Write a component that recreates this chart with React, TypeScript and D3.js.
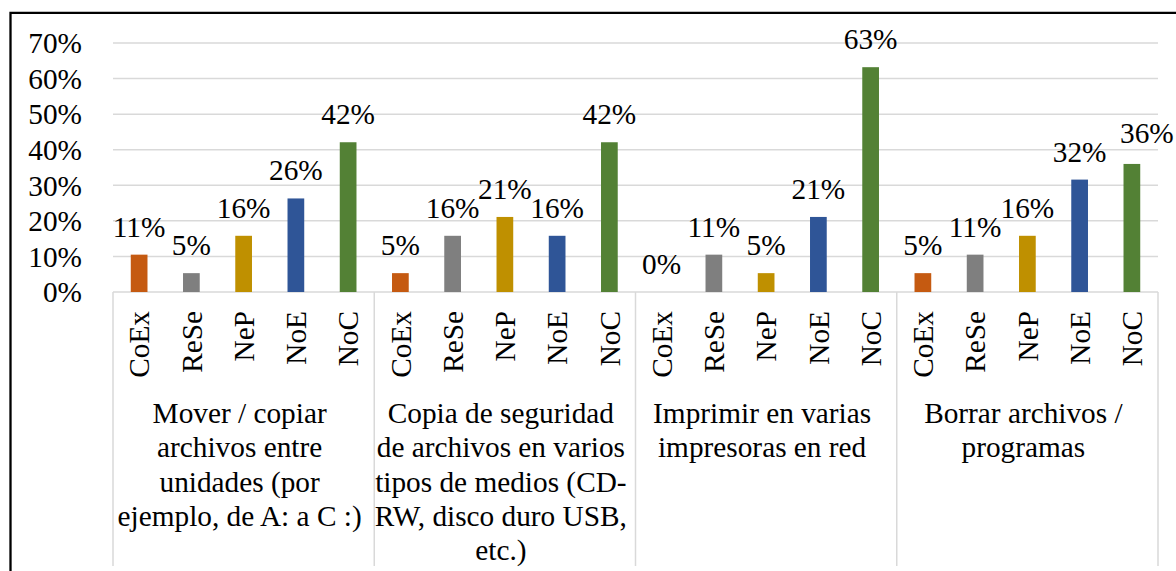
import React from "react";
import * as d3 from "d3";

const series = ["CoEx", "ReSe", "NeP", "NoE", "NoC"];
const seriesColors = ["#C55A11", "#7F7F7F", "#BF9000", "#2F5597", "#538135"];
const groups = ["g1", "g2", "g3", "g4"];
const groupLabels = [
  ["Mover / copiar", "archivos entre", "unidades (por", "ejemplo, de A: a C :)"],
  ["Copia de seguridad", "de archivos en varios", "tipos de medios (CD-", "RW, disco duro USB,", "etc.)"],
  ["Imprimir en varias", "impresoras en red"],
  ["Borrar archivos /", "programas"],
];
// values in percent, per group, in series order
const values1 = [10.5, 5.3, 15.8, 26.3, 42.1];
const values2 = [5.3, 15.8, 21.1, 15.8, 42.1];
const values3 = [0, 10.5, 5.3, 21.1, 63.2];
const values4 = [5.3, 10.5, 15.8, 31.6, 36];
const groupValues = [values1, values2, values3, values4];
const yTicks = [0, 10, 20, 30, 40, 50, 60, 70];

const W = 1176;
const H = 571;
const FONT = "Liberation Serif, Times New Roman, serif";
const FS = 29.3;
const textStyle = { fontFamily: FONT, fontSize: FS + "px" } as React.CSSProperties;

export default function App() {
  const plotLeft = 113;
  const plotRight = 1158;
  const plotTop = 43;
  const plotBottom = 292;

  const x0 = d3.scaleBand<string>().domain(groups).range([plotLeft, plotRight]).padding(0);
  const x1 = d3
    .scaleBand<string>()
    .domain(series)
    .range([0, x0.bandwidth()])
    .paddingInner(0.68)
    .paddingOuter(0.34);
  const y = d3.scaleLinear().domain([0, 70]).range([plotBottom, plotTop]);

  const nudge = (gi: number, si: number) => (gi === 3 && si === 4 ? { dx: 15, dy: -3 } : { dx: 0, dy: 0 });

  return (
    <svg
      width={W}
      height={H}
      style={{ position: "absolute", left: 0, top: 0, background: "#fff", fontFamily: FONT }}
    >
      <rect x={0} y={0} width={W} height={H} fill="#fff" />
      {/* frame */}
      <path d={`M10.5,${H + 5} L10.5,12.8 L${W + 5},12.8`} fill="none" stroke="#000" strokeWidth={2.3} />

      {/* gridlines */}
      {yTicks.map((t) => (
        <line
          key={"g" + t}
          x1={plotLeft}
          x2={plotRight}
          y1={y(t)}
          y2={y(t)}
          stroke="#d9d9d9"
          strokeWidth={1.5}
        />
      ))}

      {/* y labels */}
      {yTicks.map((t) => (
        <text key={"yl" + t} x={82} y={y(t)} dy="0.35em" textAnchor="end" style={textStyle} fill="#000">
          {t + "%"}
        </text>
      ))}

      {/* category separators */}
      {[...groups.map((g) => x0(g)!), plotRight].map((xx, i) => (
        <line key={"sep" + i} x1={xx} x2={xx} y1={plotBottom} y2={566} stroke="#d9d9d9" strokeWidth={1.5} />
      ))}

      {/* bars */}
      {groups.map((g, gi) =>
        series.map((s, si) => {
          const v = groupValues[gi][si];
          const bx = x0(g)! + x1(s)!;
          return (
            <rect
              key={g + s}
              x={bx}
              y={y(v)}
              width={x1.bandwidth()}
              height={plotBottom - y(v)}
              fill={seriesColors[si]}
            />
          );
        })
      )}

      {/* data labels */}
      {groups.map((g, gi) =>
        series.map((s, si) => {
          const v = groupValues[gi][si];
          const cx = x0(g)! + x1(s)! + x1.bandwidth() / 2;
          const n = nudge(gi, si);
          return (
            <text
              key={"dl" + g + s}
              x={cx + n.dx}
              y={y(v) - 18 + n.dy}
              textAnchor="middle"
              style={textStyle}
              fill="#000"
            >
              {Math.round(v) + "%"}
            </text>
          );
        })
      )}

      {/* series labels rotated */}
      {groups.map((g, gi) =>
        series.map((s, si) => {
          const cx = x0(g)! + x1(s)! + x1.bandwidth() / 2;
          return (
            <text
              key={"sl" + g + s}
              transform={`translate(${cx},${plotBottom + 19}) rotate(-90)`}
              dy="0.35em"
              textAnchor="end"
              style={textStyle}
              fill="#000"
            >
              {s}
            </text>
          );
        })
      )}

      {/* group labels */}
      {groups.map((g, gi) => (
        <text
          key={"gl" + g}
          x={x0(g)! + x0.bandwidth() / 2 - 4}
          y={423}
          textAnchor="middle"
          style={textStyle}
          fill="#000"
        >
          {groupLabels[gi].map((line, li) => (
            <tspan key={li} x={x0(g)! + x0.bandwidth() / 2 - 4} y={423 + li * 34.3}>
              {line}
            </tspan>
          ))}
        </text>
      ))}
    </svg>
  );
}
